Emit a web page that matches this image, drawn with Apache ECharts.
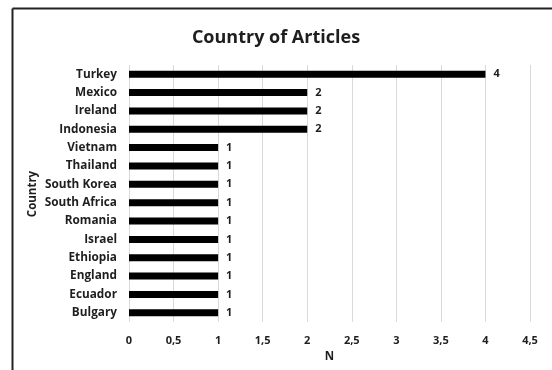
<!DOCTYPE html>
<html>
<head>
<meta charset="utf-8">
<script src="https://cdn.jsdelivr.net/npm/echarts@6/dist/echarts.min.js"></script>
<style>
html,body{margin:0;padding:0;background:#fff;}
#chart{width:552px;height:370px;}
</style>
</head>
<body>
<div id="chart"></div>
<script>
// Countries listed bottom-to-top (category axis starts at the bottom)
const countries = ['Bulgary','Ecuador','England','Ethiopia','Israel','Romania','South Africa','South Korea','Thailand','Vietnam','Indonesia','Ireland','Mexico','Turkey'];
const articles = [1,1,1,1,1,1,1,1,1,1,2,2,2,4];

const FONT = '"Open Sans", Lato, sans-serif';
const TEXT = '#1e1e1e';
const chart = echarts.init(document.getElementById('chart'), null, {renderer:'canvas'});

chart.setOption({
  animation: false,
  backgroundColor: '#fff',
  title: {
    text: 'Country of Articles',
    left: 'center',
    top: 24,
    textStyle: {fontFamily: FONT, fontSize: 18, fontWeight: 'bold', color: TEXT}
  },
  graphic: [
    {type: 'line', shape: {x1: 12.5, y1: 8.5, x2: 552, y2: 8.5}, style: {stroke: '#222', lineWidth: 2}},
    {type: 'line', shape: {x1: 12.5, y1: 8.5, x2: 12.5, y2: 370}, style: {stroke: '#222', lineWidth: 2}},
    // vertical axis title, set close to the category labels
    {
      type: 'text', x: 33, y: 194, rotation: Math.PI / 2,
      style: {
        text: 'Country', fill: TEXT, font: 'bold 11.5px ' + FONT,
        align: 'center', verticalAlign: 'middle'
      }
    }
  ],
  grid: {left: 129, right: 22, top: 65, bottom: 48},
  xAxis: {
    type: 'value',
    min: 0, max: 4.5, interval: 0.5,
    name: 'N',
    nameLocation: 'middle',
    nameGap: 26,
    nameTextStyle: {fontFamily: FONT, fontSize: 11.5, fontWeight: 'bold', color: TEXT},
    axisLine: {show: false},
    axisTick: {show: false},
    axisLabel: {
      margin: 13,
      fontFamily: FONT, fontSize: 11, fontWeight: 'bold', color: TEXT,
      formatter: v => String(v).replace('.', ',')
    },
    splitLine: {lineStyle: {color: '#d9d9d9', width: 1}}
  },
  yAxis: {
    type: 'category',
    data: countries,
    axisLine: {show: false},
    axisTick: {show: false},
    axisLabel: {margin: 12, fontFamily: FONT, fontSize: 11.8, fontWeight: 'bold', color: TEXT}
  },
  series: [{
    type: 'bar',
    data: articles,
    barWidth: 7,
    itemStyle: {color: '#000'},
    label: {
      show: true,
      position: 'right',
      distance: 8,
      fontFamily: FONT, fontSize: 11, fontWeight: 'bold', color: TEXT
    }
  }]
});
</script>
</body>
</html>
